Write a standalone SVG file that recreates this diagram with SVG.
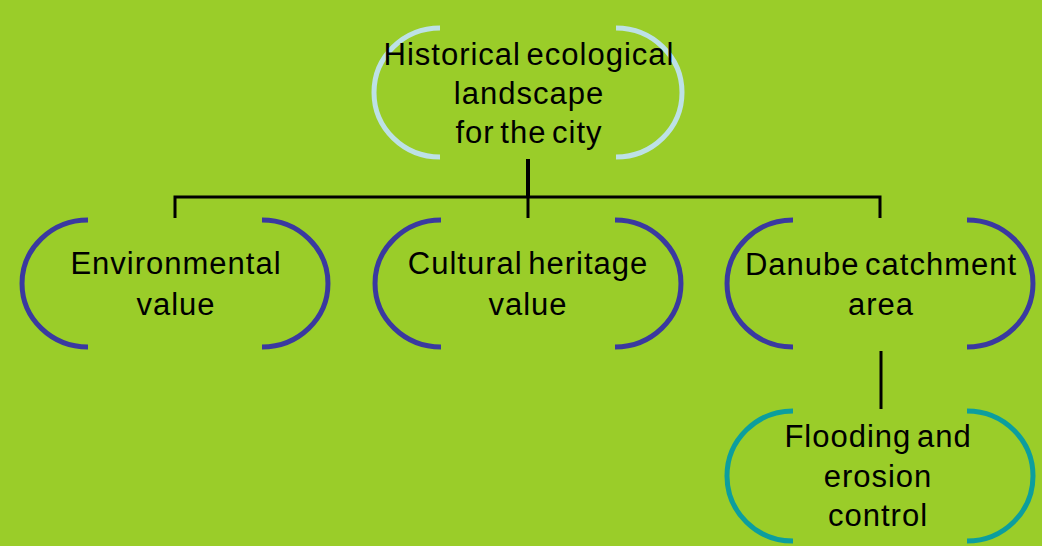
<svg xmlns="http://www.w3.org/2000/svg" width="1042" height="546" viewBox="0 0 1042 546">
<style>
.bg{fill:#9ACD29}
.arc{fill:none;stroke-width:5;stroke-linecap:butt}
.top{stroke:#BDE1E6}
.mid{stroke:#3A39A0}
.low{stroke:#0C9E9E}
.conn{fill:none;stroke:#000;stroke-width:3}
text{font-family:"Liberation Sans",Arial,sans-serif;font-size:31px;fill:#000;text-anchor:middle;letter-spacing:1px;word-spacing:-4px}
</style>
<rect class="bg" x="0" y="0" width="1042" height="546"/>
<g id="connectors">
<line class="conn" x1="528" y1="159" x2="528" y2="197" style="stroke-width:4"/>
<path class="conn" d="M175,218 V197 H880 V218"/>
<line class="conn" x1="528" y1="197" x2="528" y2="218"/>
<line class="conn" x1="881" y1="351" x2="881" y2="409"/>
</g>
<g id="node-historical">
<path class="arc top" d="M440,28 A66,64.5 0 0 0 440,157 M616,28 A66,64.5 0 0 1 616,157"/>
<text x="529" y="65">Historical ecological</text>
<text x="529" y="104">landscape</text>
<text x="529" y="143">for the city</text>
</g>
<g id="node-environmental">
<path class="arc mid" d="M88,220 A66,63.5 0 0 0 88,347 M262,220 A66,63.5 0 0 1 262,347"/>
<text x="176" y="274">Environmental</text>
<text x="176" y="315">value</text>
</g>
<g id="node-cultural">
<path class="arc mid" d="M441,220 A66,63.5 0 0 0 441,347 M615,220 A66,63.5 0 0 1 615,347"/>
<text x="528" y="274">Cultural heritage</text>
<text x="528" y="315">value</text>
</g>
<g id="node-danube">
<path class="arc mid" d="M793,220 A66,63.5 0 0 0 793,347 M967,220 A66,63.5 0 0 1 967,347"/>
<text x="881" y="275">Danube catchment</text>
<text x="881" y="315">area</text>
</g>
<g id="node-flooding">
<path class="arc low" d="M793,411 A66,65 0 0 0 793,541 M967,411 A66,65 0 0 1 967,541"/>
<text x="878" y="447">Flooding and</text>
<text x="878" y="487">erosion</text>
<text x="878" y="526">control</text>
</g>
</svg>
